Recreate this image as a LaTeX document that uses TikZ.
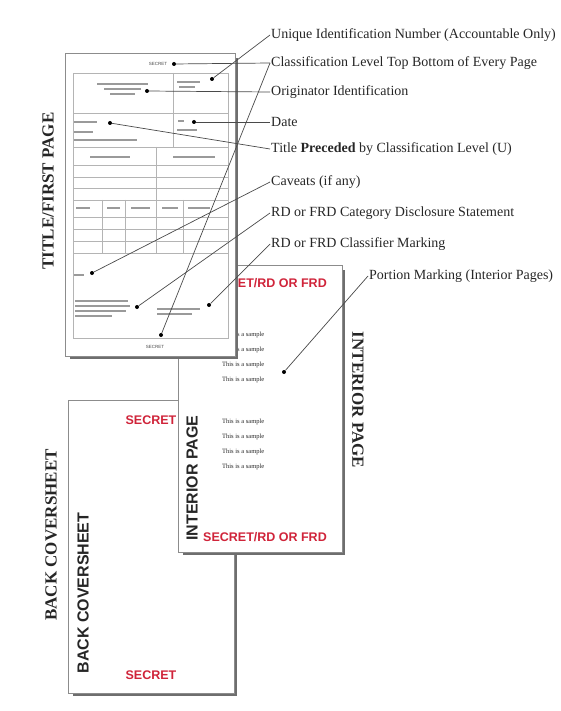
\documentclass[tikz,border=0pt]{standalone}
\usepackage{fontspec}
\setmainfont{Liberation Serif}
\setsansfont{Liberation Sans}
\usetikzlibrary{positioning}
\definecolor{Ink}{HTML}{262626}
\definecolor{Lead}{HTML}{4A4A4A}
\definecolor{Edge}{HTML}{8C8C8C}
\definecolor{Shade}{HTML}{6E6E6E}
\definecolor{Faint}{HTML}{B4B4B4}
\definecolor{Scrib}{HTML}{9A9A9A}
\definecolor{SecRed}{HTML}{D0243A}

\begin{document}
\begin{tikzpicture}[x=1pt,y=-1pt,
  page/.style={fill=white,draw=Edge,line width=0.9pt},
  shadow/.style={Shade,line width=2pt},
  rule/.style={Faint,line width=0.6pt},
  scrib/.style={Scrib,line width=1.2pt},
  lbl/.style={font=\fontsize{14}{16}\selectfont,text=Ink,anchor=west,inner sep=1pt},
  dot/.style={circle,fill=black,inner sep=0pt,minimum size=4pt},
  lead/.style={Lead,line width=0.7pt},
  sidelbl/.style={font=\fontsize{17}{19}\selectfont\bfseries,text=Ink},
  inlbl/.style={font=\sffamily\bfseries\fontsize{16}{18}\selectfont,text=Ink},
  secmark/.style={font=\sffamily\bfseries\fontsize{12.5}{14}\selectfont,text=SecRed},
  sample/.style={font=\fontsize{6.5}{7}\selectfont,text=Ink,anchor=west,inner sep=0pt},
  tinytxt/.style={font=\sffamily\fontsize{4.5}{5}\selectfont,text=Lead,inner sep=0pt}]
  \useasboundingbox (0,0) rectangle (561,711);

  % back coversheet
  \draw[shadow] (73,695) -- (236,695) -- (236,405);
  \draw[page] (68,400) rectangle (234,693);
  \node[secmark] (bcTop) at (151,420) {SECRET};
  \node[secmark] (bcBot) at (151,675) {SECRET};
  \node[inlbl,rotate=90] (bcIn) at (83,593) {BACK COVERSHEET};
  \node[sidelbl,rotate=90] (bcOut) at (51,535) {BACK COVERSHEET};

  % interior page
  \draw[shadow] (183,554) -- (344,554) -- (344,270);
  \draw[page] (178,265) rectangle (342,552);
  \node[secmark] (ipTop) at (265,283) {SECRET/RD OR FRD};
  \node[secmark] (ipBot) at (265,537) {SECRET/RD OR FRD};
  \foreach \y in {335,350,365,380,422,437,452,467}
    \node[sample] (s\y) at (222,\y) {This is a sample};
  \node[inlbl,rotate=90] (ipIn) at (192,478) {INTERIOR PAGE};
  \node[sidelbl,rotate=-90] (ipOut) at (358,400) {INTERIOR PAGE};

  % title / first page
  \draw[shadow] (70,358) -- (237,358) -- (237,58);
  \draw[page] (65,53) rectangle (235,356);
  \draw[rule] (73,73) rectangle (228,338);
  \foreach \y in {113,147,165,177,188,200,217,229,241,253}
    \draw[rule] (73,\y) -- (228,\y);
  \draw[rule] (173,73) -- (173,147);
  \draw[rule] (156,147) -- (156,253);
  \foreach \x in {102,125,183}
    \draw[rule] (\x,200) -- (\x,253);
  \foreach \xa/\xb/\y in {97/148/84,104/141/89,110/135/94,177/200/82,179/195/87,
      74/97/122,74/93/132,74/137/140,178/184/121,177/197/130,90/130/157,173/215/157,
      76/90/208,107/120/208,131/150/208,162/178/208,188/210/208,74/84/275,
      75/128/301,75/130/306,75/126/311,75/112/316,157/200/309,157/192/314}
    \draw[scrib] (\xa,\y) -- (\xb,\y);
  \node[tinytxt] (tpTop) at (158,64) {SECRET};
  \node[tinytxt] (tpBot) at (155,347) {SECRET};
  \node[sidelbl,rotate=90] (tpOut) at (48,191) {TITLE/FIRST PAGE};

  \node[dot] (dUnique) at (212,79) {};
  \node[dot] (dClassTop) at (174,64) {};
  \node[dot] (dClassBot) at (161,335) {};
  \node[dot] (dOrig) at (147,91) {};
  \node[dot] (dDate) at (194,122) {};
  \node[dot] (dTitle) at (110,123) {};
  \node[dot] (dCaveat) at (92,273) {};
  \node[dot] (dCategory) at (137,307) {};
  \node[dot] (dClassifier) at (209,305) {};
  \node[dot] (dPortion) at (284,372) {};

  \node[lbl] (lUnique) at (270,35) {Unique Identification Number (Accountable Only)};
  \node[lbl] (lClass) at (270,63) {Classification Level Top Bottom of Every Page};
  \node[lbl] (lOrig) at (270,92) {Originator Identification};
  \node[lbl] (lDate) at (270,122) {Date};
  \node[lbl] (lTitle) at (270,149) {Title \textbf{Preceded} by Classification Level (U)};
  \node[lbl] (lCaveat) at (270,182) {Caveats (if any)};
  \node[lbl] (lCategory) at (270,213) {RD or FRD Category Disclosure Statement};
  \node[lbl] (lClassifier) at (270,244) {RD or FRD Classifier Marking};
  \node[lbl] (lPortion) at (368,276) {Portion Marking (Interior Pages)};

  \draw[lead] (dUnique) -- (lUnique.west);
  \draw[lead] (dClassTop) -- (lClass.west);
  \draw[lead] (dClassBot) -- (lClass.west);
  \draw[lead] (dOrig) -- (lOrig.west);
  \draw[lead] (dDate) -- (lDate.west);
  \draw[lead] (dTitle) -- (lTitle.west);
  \draw[lead] (dCaveat) -- (lCaveat.west);
  \draw[lead] (dCategory) -- (lCategory.west);
  \draw[lead] (dClassifier) -- (lClassifier.west);
  \draw[lead] (dPortion) -- (lPortion.west);
\end{tikzpicture}
\end{document}
